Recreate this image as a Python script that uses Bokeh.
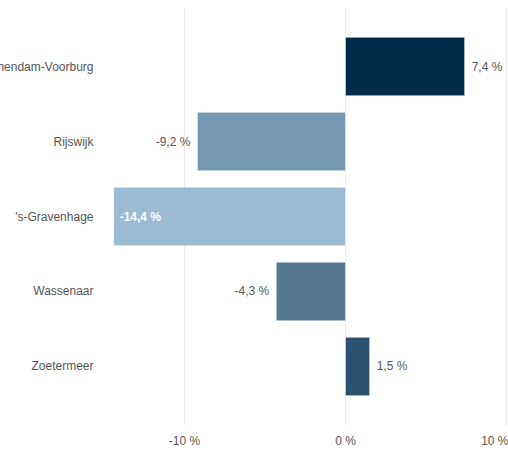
from bokeh.plotting import figure
from bokeh.models import ColumnDataSource, FactorRange, FixedTicker, LabelSet
from bokeh.core.properties import value
from bokeh.embed import file_html
from bokeh.resources import INLINE

# ---- data ----
categories = ["Leidschendam-Voorburg", "Rijswijk", "'s-Gravenhage", "Wassenaar", "Zoetermeer"]
values = [7.4, -9.2, -14.4, -4.3, 1.5]
tick_values = [-10, 0, 10]
tick_labels = ["-10 %", "0 %", "10 %"]

# ---- styles ----
bar_colors = ["#022b4a", "#7598b3", "#9bbbd5", "#537791", "#2d5171"]
label_inside = [False, False, True, False, False]
FONT = "Liberation Sans"
TXT = "#555555"

labels = [f"{v:.1f}".replace(".", ",") + " %" for v in values]

src = ColumnDataSource(dict(cat=categories, val=values, color=bar_colors, label=labels))


def subset(pred):
    idx = [i for i in range(len(categories)) if pred(values[i], label_inside[i])]
    return ColumnDataSource(dict(cat=[categories[i] for i in idx],
                                 val=[values[i] for i in idx],
                                 label=[labels[i] for i in idx]))


out_pos = subset(lambda v, i: v >= 0 and not i)
out_neg = subset(lambda v, i: v < 0 and not i)
ins = subset(lambda v, i: i)

LEFT = 150
x_min = (100 - 345) / 16.1
x_max = (508 - 345) / 16.1

p = figure(
    frame_width=408, frame_height=418,
    y_range=FactorRange(factors=list(reversed(categories)), range_padding=0.287,
                        range_padding_units="absolute"),
    x_range=(x_min, x_max),
    output_backend="svg", toolbar_location=None,
    min_border_left=LEFT, min_border_right=0, min_border_top=0, min_border_bottom=18,
)
p.margin = (7, 0, 0, -50)

p.hbar(y="cat", left=0, right="val", height=0.78, color="color", source=src,
       line_color="white", line_alpha=0.5, line_width=1)

common = dict(x="val", y="cat", text="label", text_baseline="middle",
              text_font_size="12px", text_font=value(FONT))
p.add_layout(LabelSet(source=out_pos, x_offset=7, text_align="left", text_color=TXT, **common))
p.add_layout(LabelSet(source=out_neg, x_offset=-7, text_align="right", text_color=TXT, **common))
p.add_layout(LabelSet(source=ins, x_offset=6, text_align="left", text_color="white",
                      text_font_style="bold", **common))

p.outline_line_color = None
p.ygrid.grid_line_color = None
p.xgrid.grid_line_color = "#ebebeb"
p.xgrid.ticker = FixedTicker(ticks=tick_values)

p.xaxis.ticker = FixedTicker(ticks=tick_values)
p.xaxis.major_label_overrides = {t: l for t, l in zip(tick_values, tick_labels)}
for ax in (p.xaxis, p.yaxis):
    ax.axis_line_color = None
    ax.major_tick_line_color = None
    ax.minor_tick_line_color = None
    ax.major_label_text_font = FONT
    ax.major_label_text_font_size = "12px"
    ax.major_label_text_color = TXT
p.xaxis.major_label_standoff = 2
p.yaxis.major_label_standoff = 1

open("out.html", "w").write(file_html(p, INLINE))
